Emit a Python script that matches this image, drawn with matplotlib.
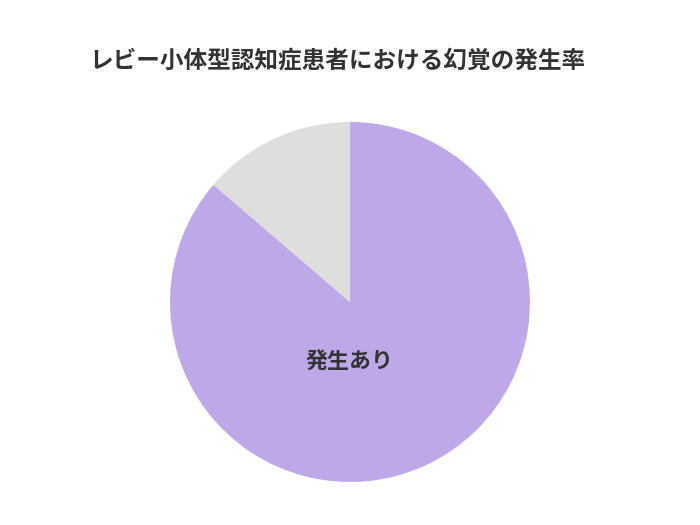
import matplotlib
matplotlib.use("Agg")
import matplotlib.pyplot as plt

plt.rcParams['font.family'] = ['Noto Sans CJK JP', 'DejaVu Sans']

title = "レビー小体型認知症患者における幻覚の発生率"
categories = ["発生あり", "発生なし"]
values = [86.3, 13.7]
colors = ["#BFA8E8", "#DEDEDE"]

fig = plt.figure(figsize=(7, 5.25), dpi=100)
ax = fig.add_axes([170/700, 43/525, 360/700, 360/525])
ax.pie(values, colors=colors, startangle=90, counterclock=False, radius=1,
       wedgeprops=dict(linewidth=0))
ax.set_xlim(-1, 1)
ax.set_ylim(-1, 1)
ax.set_aspect('equal')
ax.axis('off')

ax.text(0, -0.333, categories[0], ha='center', va='center', fontsize=15.8,
        fontweight='bold', color='#333333')

fig.text(337.5/700, 1 - 60/525, title, ha='center', va='center', fontsize=17,
         fontweight='bold', color='#333333')

fig.savefig("out.png", dpi=100)
